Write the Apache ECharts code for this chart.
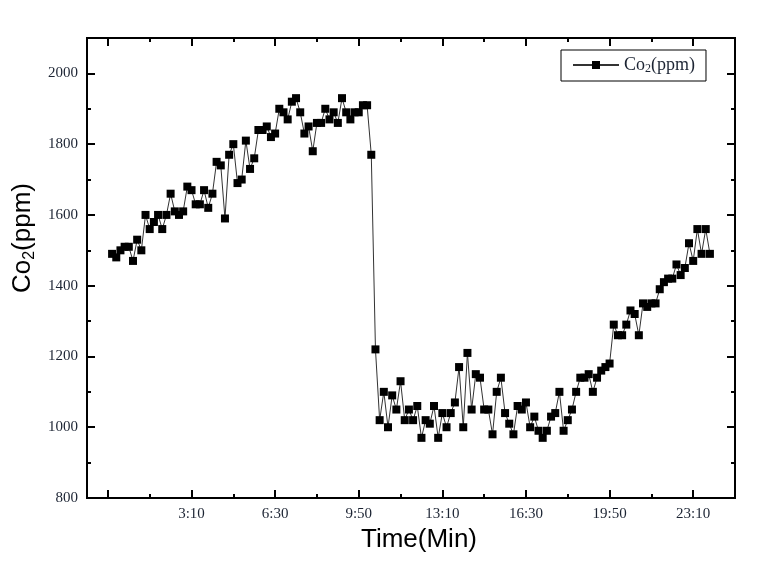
<!DOCTYPE html>
<html>
<head>
<meta charset="utf-8">
<script src="https://cdn.jsdelivr.net/npm/echarts@6/dist/echarts.min.js"></script>
<style>html,body{margin:0;padding:0;background:#fff;}#c{width:762px;height:563px;}</style>
</head>
<body>
<div id="c"></div>
<script>
// time step between samples (minutes) and CO2 readings (ppm)
const stepMin = 10;
const co2 = [
  1490,1480,1500,1510,1510,1470,1530,1500,1600,1560,
  1580,1600,1560,1600,1660,1610,1600,1610,1680,1670,
  1630,1630,1670,1620,1660,1750,1740,1590,1770,1800,
  1690,1700,1810,1730,1760,1840,1840,1850,1820,1830,
  1900,1890,1870,1920,1930,1890,1830,1850,1780,1860,
  1860,1900,1870,1890,1860,1930,1890,1870,1890,1890,
  1910,1910,1770,1220,1020,1100,1000,1090,1050,1130,
  1020,1050,1020,1060,970,1020,1010,1060,970,1040,
  1000,1040,1070,1170,1000,1210,1050,1150,1140,1050,
  1050,980,1100,1140,1040,1010,980,1060,1050,1070,
  1000,1030,990,970,990,1030,1040,1100,990,1020,
  1050,1100,1140,1140,1150,1100,1140,1160,1170,1180,
  1290,1260,1260,1290,1330,1320,1260,1350,1340,1350,
  1350,1390,1410,1420,1420,1460,1430,1450,1520,1470,
  1560,1490,1560,1490
];
const xMajorTicks = [-10,190,390,590,790,990,1190,1390];
const xMinorTicks = [90,290,490,690,890,1090,1290,1490];
const xLabelValues = [190,390,590,790,990,1190,1390];
const xLabels = ['3:10','6:30','9:50','13:10','16:30','19:50','23:10'];
const yMajorTicks = [800,1000,1200,1400,1600,1800,2000];
const yMinorTicks = [900,1100,1300,1500,1700,1900];

const data = co2.map((v, i) => [i * stepMin, v]);

const labelFont = {fontFamily: 'Liberation Serif', fontSize: 15, color: '#1c2433'};
const lineStyle = {color: '#000', width: 2};

function xAx(pos, ticks, len, labels) {
  return {
    type: 'value', position: pos, min: -60, max: 1490,
    axisLine: {show: true, onZero: false, lineStyle: lineStyle},
    axisTick: {show: true, inside: true, length: len, customValues: ticks, lineStyle: lineStyle},
    axisLabel: labels ? Object.assign({show: true, margin: 9, customValues: xLabelValues,
      formatter: v => xLabels[xLabelValues.indexOf(v)]}, labelFont) : {show: false},
    splitLine: {show: false}
  };
}
function yAx(pos, ticks, len, labels) {
  return {
    type: 'value', position: pos, min: 800, max: 2100,
    axisLine: {show: true, onZero: false, lineStyle: lineStyle},
    axisTick: {show: true, inside: true, length: len, customValues: ticks, lineStyle: lineStyle},
    axisLabel: labels ? Object.assign({show: true, margin: 9, customValues: yMajorTicks,
      formatter: v => String(v)}, labelFont) : {show: false},
    splitLine: {show: false}
  };
}

const xMain = xAx('bottom', xMajorTicks, 8, true);
xMain.name = 'Time(Min)';
xMain.nameLocation = 'middle';
xMain.nameGap = 22;
xMain.nameTextStyle = {fontFamily: 'Liberation Sans', fontSize: 26, color: '#000', padding: [0, 0, 0, 16]};

const yMain = yAx('left', yMajorTicks, 8, true);
yMain.name = '{a|Co}{b|2}{a|(ppm)}';
yMain.nameLocation = 'middle';
yMain.nameGap = 47;
yMain.nameTextStyle = {
  padding: [0, 0, 0, 60],
  rich: {
    a: {fontFamily: 'Liberation Sans', fontSize: 26, color: '#000'},
    b: {fontFamily: 'Liberation Sans', fontSize: 16, color: '#000', padding: [12, 0, 0, 0]}
  }
};

const chart = echarts.init(document.getElementById('c'));
chart.setOption({
  animation: false,
  backgroundColor: '#fff',
  grid: {left: 87, right: 27, top: 38, bottom: 65},
  legend: {
    left: 561, top: 50,
    padding: [6, 11, 6, 11],
    borderColor: '#000', borderWidth: 1,
    itemWidth: 46, itemHeight: 10,
    formatter: () => '{a|Co}{b|2}{a|(ppm)}',
    textStyle: {
      rich: {
        a: {fontFamily: 'Liberation Serif', fontSize: 18, color: '#1c2433'},
        b: {fontFamily: 'Liberation Serif', fontSize: 12, color: '#1c2433', padding: [8, 0, 0, 0]}
      }
    },
    data: ['Co2(ppm)']
  },
  xAxis: [xMain, xAx('top', xMajorTicks, 8, false), xAx('bottom', xMinorTicks, 4, false), xAx('top', xMinorTicks, 4, false)],
  yAxis: [yMain, yAx('right', yMajorTicks, 8, false), yAx('left', yMinorTicks, 4, false), yAx('right', yMinorTicks, 4, false)],
  series: [{
    name: 'Co2(ppm)',
    type: 'line',
    xAxisIndex: 0, yAxisIndex: 0,
    data: data,
    symbol: 'rect',
    symbolSize: 8,
    showAllSymbol: true,
    itemStyle: {color: '#000'},
    lineStyle: {color: '#333', width: 1}
  }]
});
</script>
</body>
</html>
